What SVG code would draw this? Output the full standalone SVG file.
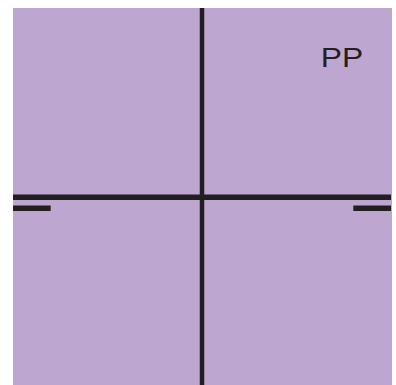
<svg xmlns="http://www.w3.org/2000/svg" width="396" height="385" viewBox="0 0 396 385">
<style>
.ln{stroke:#231f20;fill:none}
.lbl{font-family:"Liberation Sans",Arial,sans-serif;font-size:28px;fill:#231f20}
</style>
<rect x="0" y="0" width="396" height="385" fill="#ffffff"/>
<g id="field">
<rect x="13" y="8" width="379" height="377" fill="#bda7d0"/>
<text class="lbl" x="320.8" y="66.7" textLength="42.4" lengthAdjust="spacingAndGlyphs">PP</text>
</g>
<g id="connectors">
<line class="ln" x1="202" y1="8" x2="202" y2="385" stroke-width="4.5"/>
<line class="ln" x1="13" y1="197.3" x2="391" y2="197.3" stroke-width="5.5"/>
<line class="ln" x1="13" y1="208.2" x2="50.7" y2="208.2" stroke-width="5.5"/>
<line class="ln" x1="353.3" y1="208.2" x2="391" y2="208.2" stroke-width="5.5"/>
</g>
</svg>
